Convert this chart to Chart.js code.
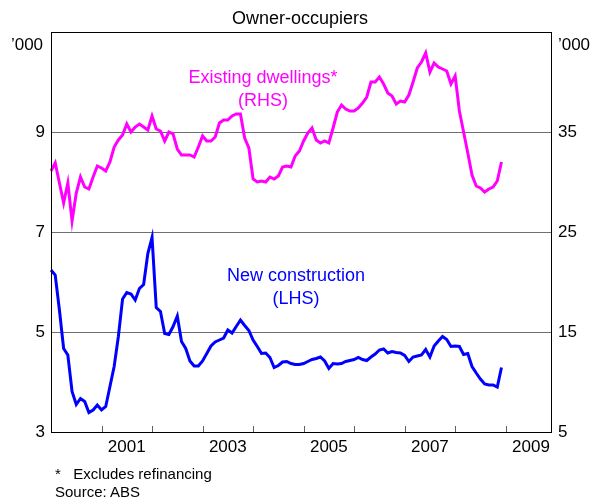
<!DOCTYPE html>
<html>
<head>
<meta charset="utf-8">
<script src="https://cdn.jsdelivr.net/npm/chart.js@4/dist/chart.umd.min.js"></script>
<style>
  body { margin: 0; background: #fff; }
  #wrap { position: relative; width: 597px; height: 502px; font-family: "Liberation Sans", Arial, sans-serif; }
  canvas { position: absolute; left: 0; top: 0; }
  .txt { position: absolute; white-space: nowrap; line-height: 1; transform: translate(-50%, -50%); }
  .note { position: absolute; white-space: nowrap; line-height: 1; font-size: 15px; color: #000; }
</style>
</head>
<body>
<div id="wrap">
  <canvas id="chart" width="597" height="502"></canvas>
  <div class="txt" style="left:300px; top:18px; font-size:18px;">Owner-occupiers</div>
  <div class="txt" style="left:27px; top:44px; font-size:17px;">’000</div>
  <div class="txt" style="left:574px; top:44px; font-size:17px;">’000</div>
  <div class="txt" style="left:263px; top:77px; font-size:18px; color:#ff00ff;">Existing dwellings*</div>
  <div class="txt" style="left:263px; top:100px; font-size:18px; color:#ff00ff;">(RHS)</div>
  <div class="txt" style="left:296px; top:275px; font-size:18px; color:#0000ff;">New construction</div>
  <div class="txt" style="left:296px; top:298px; font-size:18px; color:#0000ff;">(LHS)</div>
  <div class="note" style="left:55px; top:466px;">*&nbsp;&nbsp;&nbsp;Excludes refinancing</div>
  <div class="note" style="left:55px; top:484px;">Source: ABS</div>
</div>
<script>
// monthly, Jan 2000 onwards
const years = ["2000", "2001", "2002", "2003", "2004", "2005", "2006", "2007", "2008", "2009"];
const months = ["01", "02", "03", "04", "05", "06", "07", "08", "09", "10", "11", "12"];
const yearLabels = ["2001", "2003", "2005", "2007", "2009"];

// Existing dwellings, '000 (RHS)
const existing = [
  31.1, 31.9, 29.9, 27.9, 29.9, 26.1, 28.9, 30.5, 29.5, 29.3, 30.5, 31.6,
  31.4, 31.1, 32.0, 33.5, 34.2, 34.7, 35.8, 35.0, 35.5, 35.8, 35.5, 35.2,
  36.6, 35.3, 35.1, 34.1, 35.0, 34.8, 33.3, 32.7, 32.7, 32.7, 32.5, 33.5,
  34.6, 34.1, 34.1, 34.5, 35.9, 36.2, 36.2, 36.6, 36.8, 36.8, 34.4, 33.4,
  30.3, 30.0, 30.1, 30.0, 30.5, 30.3, 30.6, 31.5, 31.6, 31.5, 32.6, 33.1,
  34.1, 34.9, 35.4, 34.2, 33.9, 34.1, 33.9, 35.4, 37.0, 37.7, 37.3, 37.1,
  37.1, 37.4, 37.9, 38.5, 40.0, 40.0, 40.5, 39.8, 38.9, 38.6, 37.8, 38.1,
  38.0, 38.7, 40.0, 41.4, 42.0, 42.9, 41.0, 41.9, 41.5, 41.3, 41.1, 39.8,
  40.6, 37.1, 35.0, 32.9, 30.7, 29.6, 29.4, 29.0, 29.3, 29.5, 30.1, 32.0
];

// New construction, '000 (LHS)
const newConstruction = [
  6.24, 6.14, 5.44, 4.67, 4.54, 3.81, 3.55, 3.67, 3.61, 3.39, 3.44, 3.54,
  3.44, 3.51, 3.91, 4.31, 4.91, 5.66, 5.79, 5.76, 5.64, 5.87, 5.95, 6.57,
  6.89, 5.49, 5.41, 4.97, 4.95, 5.11, 5.32, 4.81, 4.67, 4.42, 4.32, 4.32,
  4.42, 4.57, 4.72, 4.80, 4.84, 4.88, 5.04, 4.98, 5.11, 5.24, 5.13, 5.03,
  4.84, 4.71, 4.57, 4.58, 4.49, 4.29, 4.33, 4.40, 4.41, 4.37, 4.35, 4.35,
  4.37, 4.41, 4.45, 4.47, 4.50, 4.42, 4.27, 4.37, 4.36, 4.37, 4.41, 4.43,
  4.45, 4.49, 4.45, 4.43, 4.50, 4.56, 4.64, 4.66, 4.58, 4.61, 4.59, 4.58,
  4.53, 4.41, 4.50, 4.52, 4.54, 4.65, 4.50, 4.72, 4.82, 4.91, 4.85, 4.71,
  4.72, 4.71, 4.55, 4.57, 4.31, 4.18, 4.06, 3.96, 3.94, 3.94, 3.90, 4.29
];

const labels = [];
years.forEach(y => months.forEach(m => labels.push(y + "-" + m)));

const font = { family: "'Liberation Sans', Arial, sans-serif", size: 17 };

// frame round the plot + small year ticks on the bottom edge
const framePlugin = {
  id: "frame",
  afterDraw(chart) {
    const { ctx, chartArea: a, scales } = chart;
    ctx.save();
    ctx.strokeStyle = "#606060";
    ctx.lineWidth = 1;
    ctx.beginPath();
    labels.forEach((lab, i) => {
      if (i > 0 && lab.endsWith("-01")) {
        const x = Math.round(scales.x.getPixelForValue(i)) + 0.5;
        ctx.moveTo(x, a.bottom);
        ctx.lineTo(x, a.bottom - 6);
      }
    });
    ctx.stroke();
    ctx.strokeStyle = "#000";
    ctx.strokeRect(Math.round(a.left) + 0.5, Math.round(a.top) + 0.5, Math.round(a.width) - 1, Math.round(a.height));
    ctx.restore();
  }
};

new Chart(document.getElementById("chart"), {
  type: "line",
  data: {
    labels: labels,
    datasets: [
      {
        label: "Existing dwellings",
        data: existing,
        yAxisID: "y2",
        borderColor: "#ff00ff",
        borderWidth: 3,
        pointRadius: 0,
        tension: 0
      },
      {
        label: "New construction",
        data: newConstruction,
        yAxisID: "y",
        borderColor: "#0000ff",
        borderWidth: 3,
        pointRadius: 0,
        tension: 0
      }
    ]
  },
  options: {
    responsive: false,
    animation: false,
    devicePixelRatio: 1,
    layout: { padding: { top: 32, left: 0, right: 0, bottom: 0 } },
    plugins: { legend: { display: false }, tooltip: { enabled: false } },
    scales: {
      x: {
        type: "category",
        offset: false,
        grid: { display: false, drawTicks: false },
        border: { display: false },
        ticks: {
          autoSkip: false,
          maxRotation: 0,
          minRotation: 0,
          padding: 5,
          color: "#000",
          font: font,
          callback: function (value, index) {
            const lab = labels[index];
            const y = lab.slice(0, 4);
            return lab.endsWith("-07") && yearLabels.includes(y) ? y : "";
          }
        },
        afterFit: s => { s.height = 70; }
      },
      y: {
        position: "left",
        min: 3,
        max: 11,
        grid: { color: "#707070", drawTicks: false },
        border: { display: false },
        ticks: {
          stepSize: 2,
          padding: 6,
          color: "#000",
          font: font,
          callback: v => (v === 11 ? "" : v)
        },
        afterFit: s => { s.width = 51; }
      },
      y2: {
        position: "right",
        min: 5,
        max: 45,
        grid: { display: false, drawTicks: false },
        border: { display: false },
        ticks: {
          stepSize: 10,
          padding: 6,
          color: "#000",
          font: font,
          callback: v => (v === 45 ? "" : v)
        },
        afterFit: s => { s.width = 45; }
      }
    }
  },
  plugins: [framePlugin]
});
</script>
</body>
</html>
